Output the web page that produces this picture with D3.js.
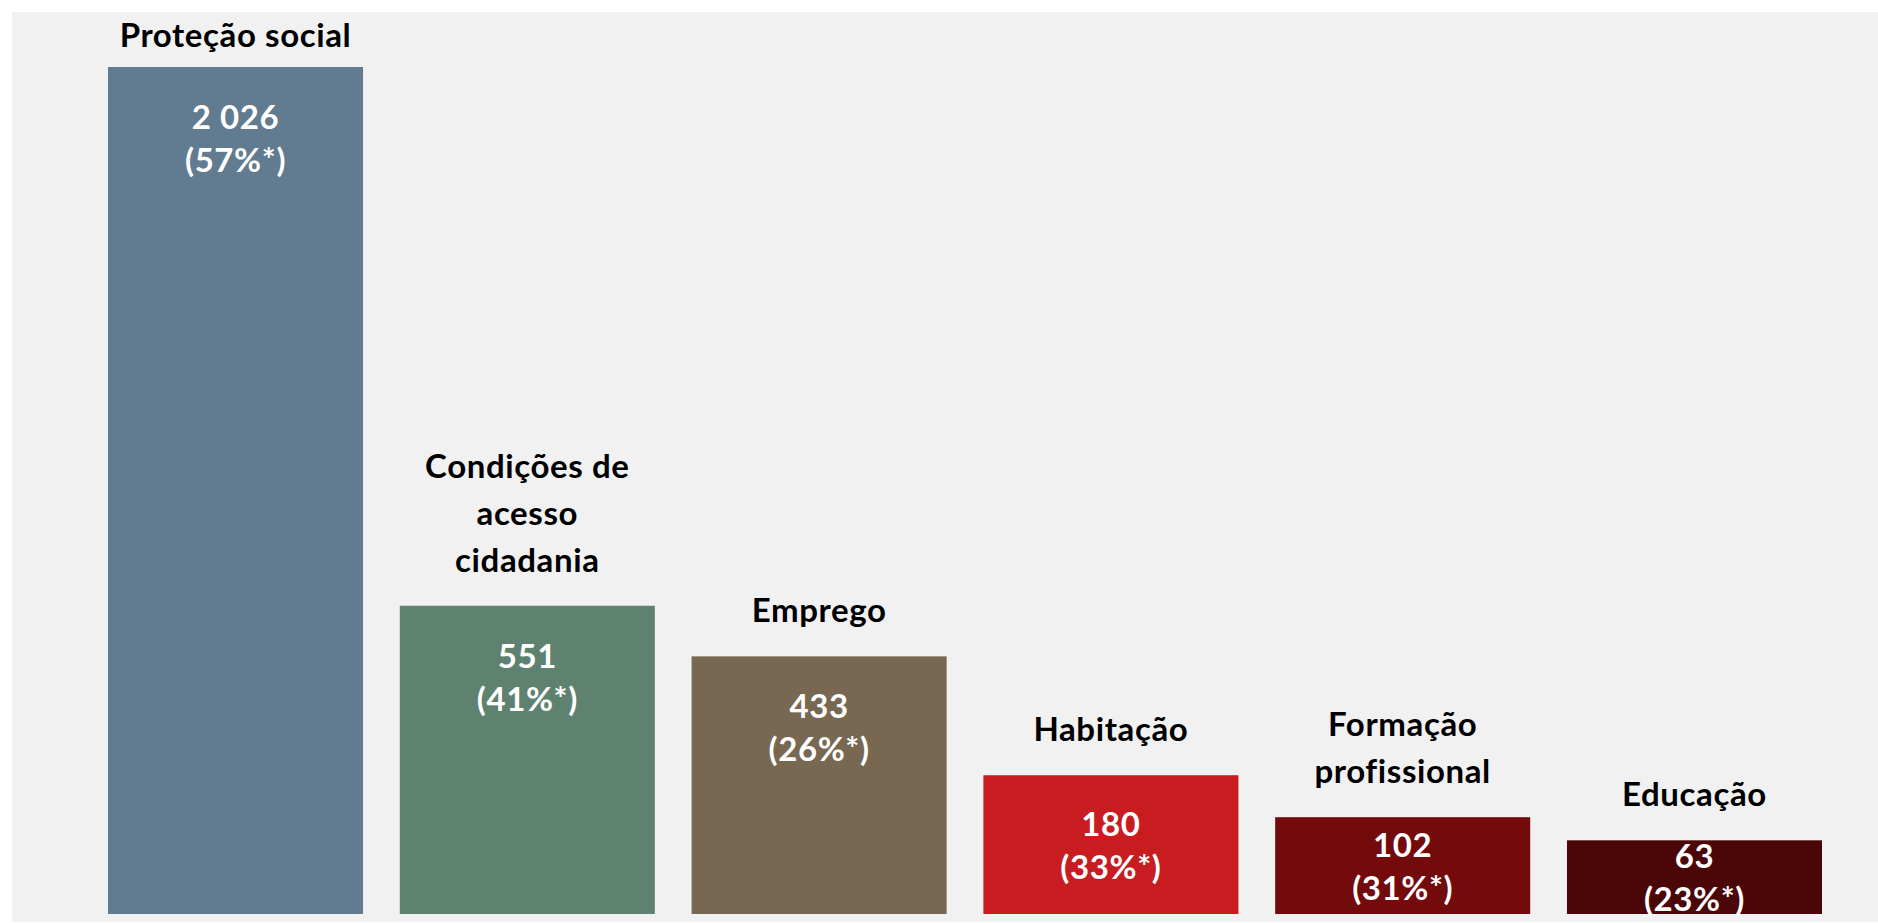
<!DOCTYPE html>
<html lang="pt">
    <head>
        <meta charset="utf-8">
        <title>Proteção social</title>
        <script type="text/javascript" src="https://d3js.org/d3.v7.min.js"></script>
        <style type="text/css">
            body { margin: 0; background: #ffffff; }
        </style>
    </head>
    <body>
        <script type="text/javascript">

        // data
        const categories = ["Proteção social", "Condições de acesso cidadania", "Emprego", "Habitação", "Formação profissional", "Educação"];
        const labelLines = [["Proteção social"], ["Condições de", "acesso", "cidadania"], ["Emprego"], ["Habitação"], ["Formação", "profissional"], ["Educação"]];
        const values = [2026, 551, 433, 180, 102, 63];
        const valueLabels = ["2 026", "551", "433", "180", "102", "63"];
        const shares = ["(57%*)", "(41%*)", "(26%*)", "(33%*)", "(31%*)", "(23%*)"];
        const colors = ["#617b90", "#5f8270", "#786852", "#c81c20", "#730a0c", "#4b0608"];

        const width = 1878;
        const height = 923;
        const baseline = 914;
        const font = "Lato, 'Open Sans', sans-serif";

        const dataset = categories.map((c, i) => ({
            name: c, lines: labelLines[i], value: values[i],
            label: valueLabels[i], share: shares[i], color: colors[i]
        }));

        const xScale = d3.scaleBand()
                        .domain(categories)
                        .range([108, 1822])
                        .paddingInner(0.126)
                        .paddingOuter(0);

        // bars in the original are not linear to the values
        const yScale = d3.scalePow()
                        .exponent(0.82)
                        .domain([0, d3.max(values)])
                        .range([baseline - 26, 67]);

        const svg = d3.select("body")
                    .append("svg")
                    .attr("width", width)
                    .attr("height", height);

        svg.append("rect")
            .attr("x", 12)
            .attr("y", 12)
            .attr("width", width - 12)
            .attr("height", 910)
            .attr("fill", "#f1f1f1");

        const g = svg.selectAll("g.bar")
            .data(dataset)
            .enter()
            .append("g")
            .attr("class", "bar");

        g.append("rect")
            .attr("x", d => xScale(d.name))
            .attr("y", d => yScale(d.value))
            .attr("width", xScale.bandwidth())
            .attr("height", d => baseline - yScale(d.value))
            .attr("fill", d => d.color);

        // value + share inside bars
        g.each(function(d) {
            const top = yScale(d.value);
            const mid = (top + baseline) / 2;
            const y1 = Math.min(top + 62, mid - 9);
            const cx = xScale(d.name) + xScale.bandwidth() / 2;
            const t = d3.select(this).append("text")
                .attr("text-anchor", "middle")
                .style("font-family", font)
                .style("font-weight", "bold")
                .style("font-size", "33px")
                .style("letter-spacing", "0.6px")
                .style("fill", "#ffffff");
            t.append("tspan").attr("x", cx).attr("y", y1).text(d.label);
            t.append("tspan").attr("x", cx).attr("y", y1 + 43).text(d.share);
        });

        // category labels above bars
        g.each(function(d) {
            const top = yScale(d.value);
            const last = Math.max(top - 34, 47);
            const cx = xScale(d.name) + xScale.bandwidth() / 2;
            const t = d3.select(this).append("text")
                .attr("text-anchor", "middle")
                .style("font-family", font)
                .style("font-weight", "bold")
                .style("font-size", "33px")
                .style("letter-spacing", "0.6px")
                .style("fill", "#000000");
            const n = d.lines.length;
            d.lines.forEach((line, i) => {
                t.append("tspan")
                    .attr("x", cx)
                    .attr("y", last - (n - 1 - i) * 47)
                    .text(line);
            });
        });

        </script>
    </body>
</html>
